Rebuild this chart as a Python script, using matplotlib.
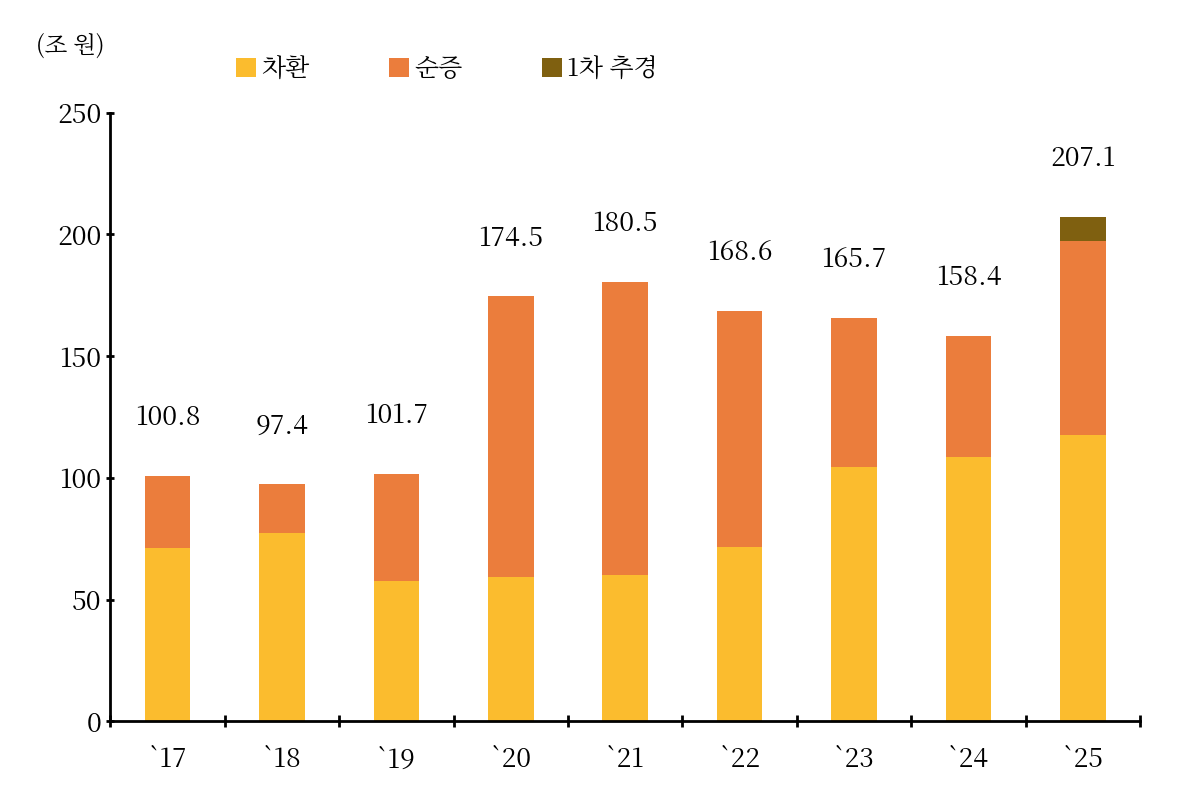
import matplotlib
matplotlib.use("Agg")
import matplotlib.pyplot as plt
from matplotlib import font_manager
import numpy as np

cjk = [f.name for f in font_manager.fontManager.ttflist if "CJK" in f.name]
kr = [n for n in cjk if "KR" in n] or cjk
plt.rcParams["font.family"] = (kr[:1] if kr else []) + ["DejaVu Sans"]

years = ["`17", "`18", "`19", "`20", "`21", "`22", "`23", "`24", "`25"]
refinance = [71.1, 77.3, 57.6, 59.2, 60.0, 71.5, 104.4, 108.6, 117.6]
net_increase = [29.7, 20.1, 44.1, 115.3, 120.5, 97.1, 61.3, 49.8, 79.8]
supplementary = [0, 0, 0, 0, 0, 0, 0, 0, 9.7]
totals = [100.8, 97.4, 101.7, 174.5, 180.5, 168.6, 165.7, 158.4, 207.1]

fig = plt.figure(figsize=(12, 8.05), dpi=100)
ax = fig.add_axes([0.092, 0.104, 0.858, 0.756])
x = np.arange(len(years))
w = 0.4
ax.bar(x, refinance, w, color="#FBBC2E", label="차환")
ax.bar(x, net_increase, w, bottom=refinance, color="#EB7D3C", label="순증")
b2 = np.array(refinance) + np.array(net_increase)
ax.bar(x, supplementary, w, bottom=b2, color="#7F6010", label="1차 추경")
for xi, t in zip(x, totals):
    ax.text(xi, t + 18, f"{t:.1f}", ha="center", va="bottom", fontsize=19)

ax.set_ylim(0, 250)
ax.set_xlim(-0.5, len(years) - 0.5)
ax.set_yticks(range(0, 251, 50))
ax.set_xticks(x)
ax.set_xticklabels(years, fontsize=19)
ax.tick_params(axis="y", labelsize=19, length=6, width=2, direction="inout")
ax.tick_params(axis="x", length=0, pad=18)
ax.set_xticks(np.arange(-0.5, len(years), 1), minor=True)
ax.tick_params(axis="x", which="minor", length=8, width=2, direction="inout")
for s in ["top", "right"]:
    ax.spines[s].set_visible(False)
for s in ["left", "bottom"]:
    ax.spines[s].set_linewidth(2)

fig.text(0.03, 0.935, "(조 원)", fontsize=17)
ax.legend(loc="upper left", bbox_to_anchor=(0.1, 1.13), ncol=3, frameon=False,
          fontsize=18, handlelength=0.8, handleheight=0.8, columnspacing=3.2, handletextpad=0.2)
fig.savefig("out.png", dpi=100)
